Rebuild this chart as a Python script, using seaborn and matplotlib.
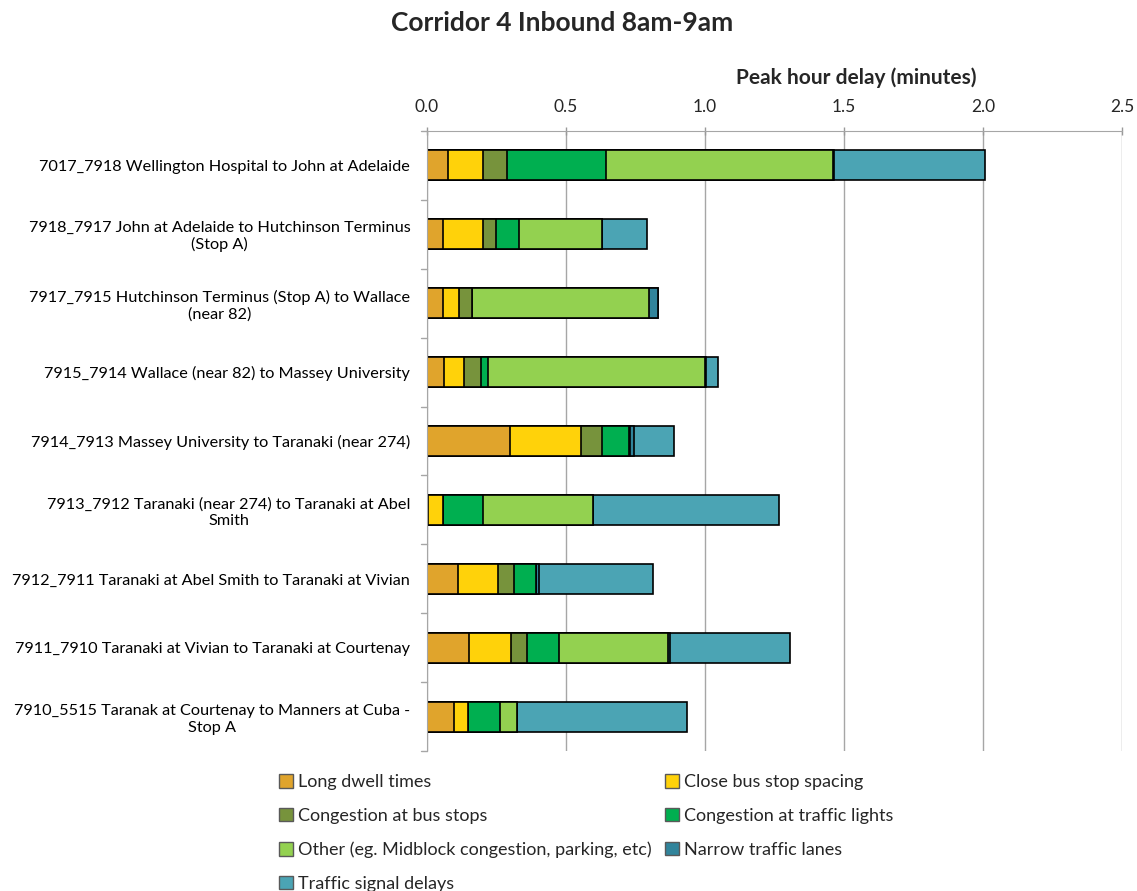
import numpy as np
import pandas as pd
import matplotlib
matplotlib.use("Agg")
import matplotlib.pyplot as plt
import seaborn as sns
from matplotlib.patches import Patch

# -------------- Data ------------------

segments = [
    "7017_7918 Wellington Hospital to John at Adelaide",
    "7918_7917 John at Adelaide to Hutchinson Terminus\n(Stop A)",
    "7917_7915 Hutchinson Terminus (Stop A) to Wallace\n(near 82)",
    "7915_7914 Wallace (near 82) to Massey University",
    "7914_7913 Massey University to Taranaki (near 274)",
    "7913_7912 Taranaki (near 274) to Taranaki at Abel\nSmith",
    "7912_7911 Taranaki at Abel Smith to Taranaki at Vivian",
    "7911_7910 Taranaki at Vivian to Taranaki at Courtenay",
    "7910_5515 Taranak at Courtenay to Manners at Cuba -\nStop A",
]

causes = [
    "Long dwell times",
    "Close bus stop spacing",
    "Congestion at bus stops",
    "Congestion at traffic lights",
    "Other (eg. Midblock congestion, parking, etc)",
    "Narrow traffic lanes",
    "Traffic signal delays",
]

long_dwell = [0.074, 0.057, 0.056, 0.063, 0.299, 0.005, 0.110, 0.151, 0.097]
close_stops = [0.126, 0.146, 0.061, 0.072, 0.256, 0.054, 0.144, 0.153, 0.051]
cong_stops = [0.088, 0.046, 0.045, 0.059, 0.074, 0.000, 0.059, 0.056, 0.000]
cong_lights = [0.357, 0.082, 0.000, 0.026, 0.097, 0.144, 0.079, 0.115, 0.115]
other = [0.817, 0.298, 0.636, 0.781, 0.004, 0.396, 0.000, 0.392, 0.062]
narrow_lanes = [0.003, 0.000, 0.033, 0.004, 0.014, 0.000, 0.011, 0.006, 0.000]
signal_delays = [0.542, 0.161, 0.000, 0.042, 0.145, 0.669, 0.410, 0.432, 0.610]

colors = ["#E0A42C", "#FFD20A", "#77933C", "#00AF50", "#93D150", "#31849B", "#4BA4B4"]

# -------------- Build table ------------------

df = pd.DataFrame({
    "Segment": segments,
    causes[0]: long_dwell,
    causes[1]: close_stops,
    causes[2]: cong_stops,
    causes[3]: cong_lights,
    causes[4]: other,
    causes[5]: narrow_lanes,
    causes[6]: signal_delays,
})

cum = df[causes].cumsum(axis=1)
cum["Segment"] = df["Segment"]

# -------------- Plot ------------------

sns.set_style("white")
plt.rcParams["font.family"] = ["Lato", "DejaVu Sans"]

fig = plt.figure(figsize=(11.37, 8.91), dpi=100)
ax = fig.add_axes([0.3755, 0.1566, 0.6113, 0.6969])

# overlay cumulative totals, biggest first
for cause, color in reversed(list(zip(causes, colors))):
    sns.barplot(data=cum, x=cause, y="Segment", color=color, orient="h",
                width=0.43, edgecolor="black", linewidth=1.2,
                saturation=1, ax=ax)

ax.set_xlim(0, 2.5)
ax.set_ylim(len(segments) - 0.5, -0.5)
ax.set_xticks([0, 0.5, 1.0, 1.5, 2.0, 2.5])
ax.set_xticklabels(["0.0", "0.5", "1.0", "1.5", "2.0", "2.5"])
ax.xaxis.tick_top()
ax.xaxis.set_label_position("top")
ax.set_xlabel("Peak hour delay (minutes)", fontsize=15, fontweight="bold", labelpad=4)
ax.xaxis.set_label_coords(0.617, 1.075)
ax.set_ylabel("")
ax.tick_params(axis="x", labelsize=12.5, colors="#262626", direction="inout",
               length=6, width=1, pad=8, color="#999999")
ax.tick_params(axis="y", labelsize=11.7, length=0, pad=12, colors="black")
for lbl in ax.get_yticklabels():
    lbl.set_horizontalalignment("right")
    lbl.set_multialignment("center")

ax.grid(axis="x", color="#A6A6A6", linewidth=1)
ax.set_axisbelow(True)
for s in ["right", "bottom"]:
    ax.spines[s].set_visible(False)
ax.spines["top"].set_color("#A6A6A6")
ax.spines["left"].set_color("#A6A6A6")

# category boundary ticks on the left
for b in np.arange(-0.5, len(segments), 1.0):
    ax.plot([-0.009, 0], [b, b], color="#A6A6A6", lw=1,
            transform=ax.get_yaxis_transform(), clip_on=False)

fig.suptitle("Corridor 4 Inbound 8am-9am", x=0.494, y=0.988,
             fontsize=19, fontweight="bold")

order = [0, 2, 4, 6, 1, 3, 5]
handles = [Patch(facecolor=colors[i], edgecolor="#595959", linewidth=1) for i in order]
labels = [causes[i] for i in order]
fig.legend(handles, labels, ncol=2, loc="upper left",
           bbox_to_anchor=(0.239, 0.139), frameon=False, fontsize=13,
           handlelength=0.75, handleheight=0.75, handletextpad=0.3,
           columnspacing=0.75, labelspacing=0.98, borderaxespad=0)

plt.savefig("out.png", dpi=100)
